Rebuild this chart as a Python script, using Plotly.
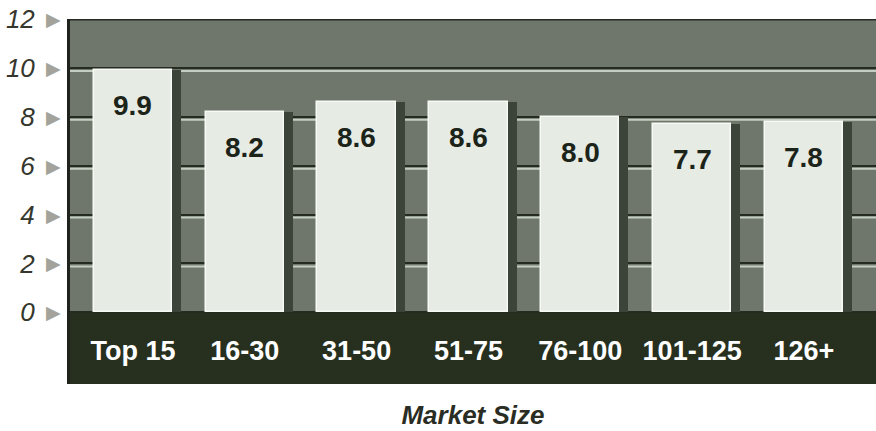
import plotly.graph_objects as go

# Average spot rate index by market size
categories = ["Top 15", "16-30", "31-50", "51-75", "76-100", "101-125", "126+"]
values = [9.9, 8.2, 8.6, 8.6, 8.0, 7.7, 7.8]
y_ticks = [0, 2, 4, 6, 8, 10, 12]
y_tick_labels = ["0", "2", "4", "6", "8", "10", "12"]
x_title = "Market Size"

SANS = "Liberation Sans, Arial, sans-serif"
PANEL = "#6f776c"
FLOOR = "#27301f"
BAR_FACE = "#e6ebe3"
BAR_SIDE = "#3c4339"
GRID_DARK = "#262b22"
GRID_LIGHT = "#c4cdc1"

bar_w = 0.70

fig = go.Figure()

# extruded side of each column
fig.add_trace(go.Bar(
    x=categories, y=values, width=bar_w, offset=-bar_w / 2 + 0.08,
    marker=dict(color=BAR_SIDE, line=dict(width=0)),
    hoverinfo="skip", showlegend=False,
))
# front face of each column
fig.add_trace(go.Bar(
    x=categories, y=values, width=bar_w, offset=-bar_w / 2,
    marker=dict(color=BAR_FACE, line=dict(color="#f7faf5", width=1.5)),
    showlegend=False,
))

shapes = [
    # dark floor strip carrying the category names
    dict(type="rect", xref="paper", yref="y", x0=0, x1=1, y0=-3, y1=0,
         fillcolor=FLOOR, line=dict(width=0), layer="below"),
    # heavy top edge of the panel
    dict(type="line", xref="paper", yref="y", x0=0, x1=1, y0=12, y1=12,
         line=dict(color=GRID_DARK, width=3)),
]
# light ledge just under each gridline
for t in y_ticks[1:-1]:
    shapes.append(dict(type="line", xref="paper", yref="y", ysizemode="pixel",
                       yanchor=t, x0=0, x1=1, y0=-3, y1=-3,
                       line=dict(color=GRID_LIGHT, width=2), layer="below"))

annotations = []
for c, v in zip(categories, values):
    annotations.append(dict(
        x=c, y=v, xref="x", yref="y", text=f"{v:.1f}", showarrow=False,
        yanchor="top", yshift=-18,
        font=dict(family=SANS, size=28, color="#1c241a", weight="bold"),
    ))
# small pointer triangles beside the value ticks
for t in y_ticks:
    annotations.append(dict(
        x=0, y=t, xref="paper", yref="y", text="\u25B6", showarrow=False,
        xanchor="right", xshift=-7, yshift=0,
        font=dict(family="DejaVu Sans", size=19, color="#a3a39b"),
    ))

fig.update_layout(
    width=876, height=431,
    margin=dict(l=70, r=0, t=19, b=47),
    paper_bgcolor="white", plot_bgcolor=PANEL,
    barmode="overlay", bargap=0,
    shapes=shapes, annotations=annotations,
    xaxis=dict(
        type="category", categoryorder="array", categoryarray=categories,
        range=[-0.563, 6.644], showgrid=False, zeroline=False, showline=False,
        ticks="", anchor="free", position=0.17, ticklabelstandoff=10,
        tickangle=0, automargin=False,
        tickfont=dict(family=SANS, size=27, color="white", weight="bold"),
        title=dict(text=x_title, standoff=40,
                   font=dict(family=SANS, size=26, color="#2a2d24",
                             weight="bold", style="italic")),
    ),
    yaxis=dict(
        range=[-2.93, 12], tickvals=y_ticks, ticktext=y_tick_labels,
        showgrid=True, gridcolor=GRID_DARK, gridwidth=2, zeroline=False,
        showline=True, linecolor="#1f231c", linewidth=3,
        ticks="", ticklabelstandoff=27, automargin=False,
        tickfont=dict(family=SANS, size=26, color="#35372d", style="italic"),
    ),
)

fig.write_html("out.html")
